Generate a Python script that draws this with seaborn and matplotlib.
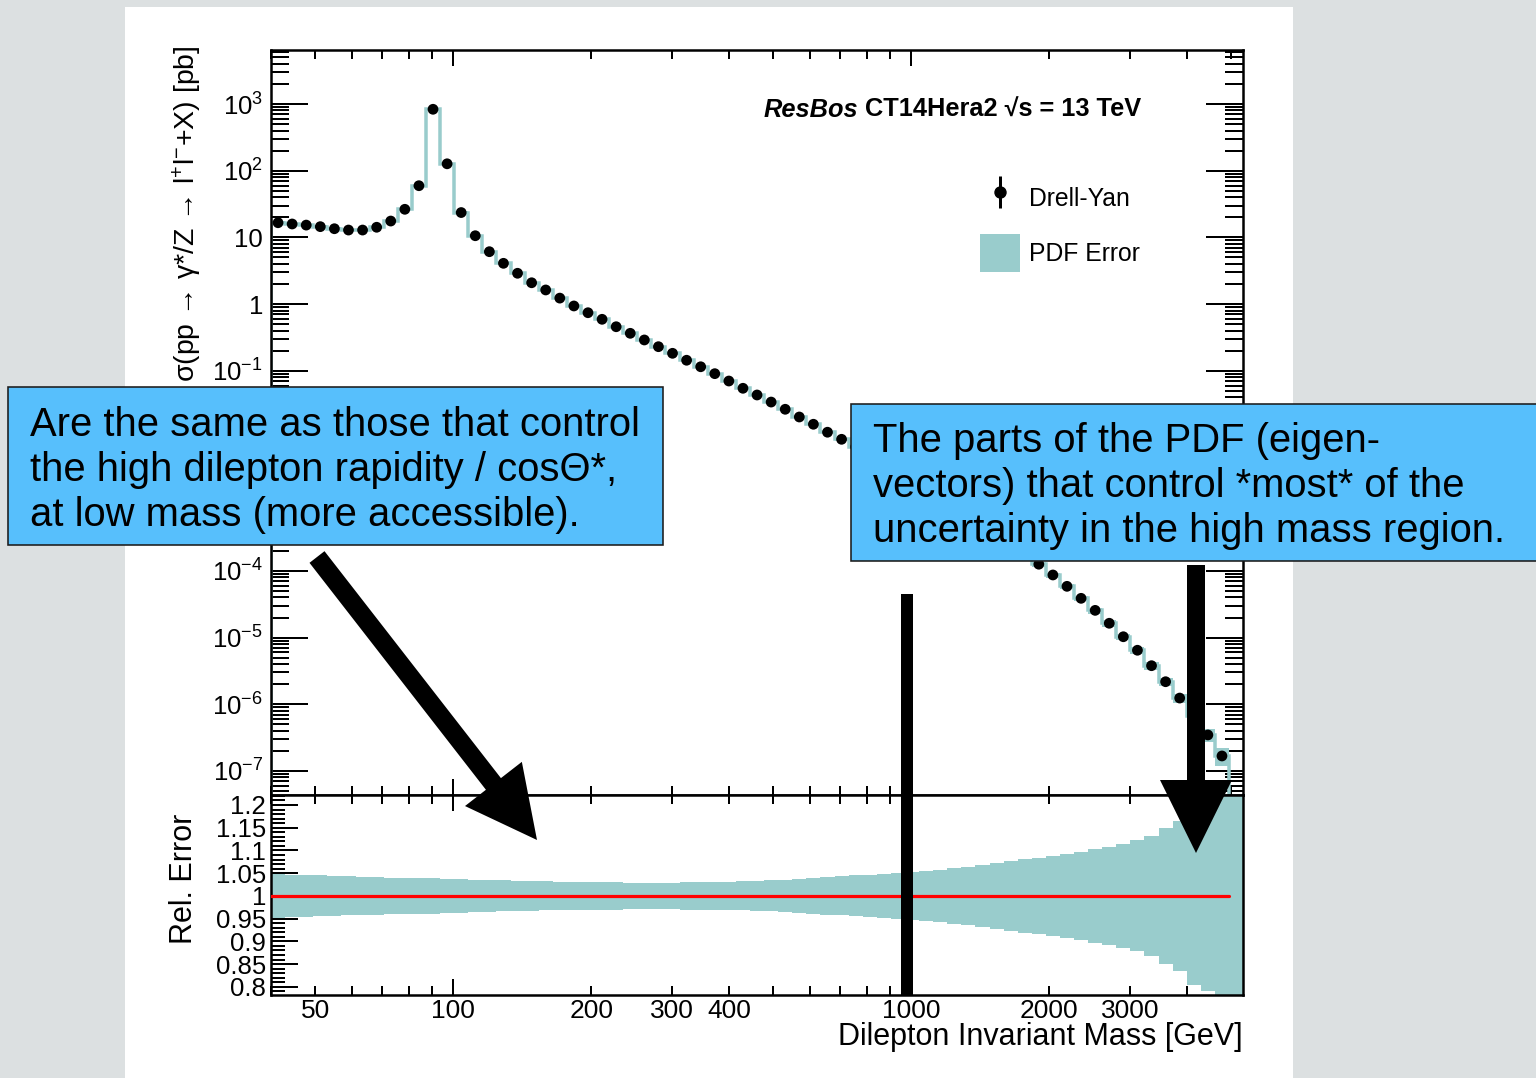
import numpy as np
import matplotlib
matplotlib.use("Agg")
import matplotlib.pyplot as plt
from matplotlib.patches import Rectangle, FancyArrow, Patch
from matplotlib.lines import Line2D
from matplotlib.transforms import Affine2D
from matplotlib.ticker import (FixedLocator, LogLocator, MultipleLocator,
                               FuncFormatter, NullFormatter)
import seaborn as sns

# ---------------------------------------------------------------- data
# dilepton mass binning (log bins)
mass_lo, mass_hi, n_bins = 40.0, 4940.0, 68

# cross section per bin [pb]
sigma = [16.6, 15.9, 15.3, 14.5, 13.5, 12.9, 12.9, 14.2, 17.6, 26.4,
         59.6, 834.0, 127.0, 23.6, 10.6, 6.11, 4.09, 2.90, 2.09, 1.63,
         1.23, 0.938, 0.743, 0.592, 0.458, 0.365, 0.290, 0.230, 0.183, 0.144,
         0.115, 0.0906, 0.0703, 0.0547, 0.0434, 0.0340, 0.0265, 0.0203, 0.0158, 0.0120,
         9.40e-3, 7.24e-3, 5.56e-3, 4.22e-3, 3.20e-3, 2.40e-3, 1.78e-3, 1.32e-3, 9.66e-4, 7.08e-4,
         5.13e-4, 3.67e-4, 2.60e-4, 1.82e-4, 1.26e-4, 8.69e-5, 5.87e-5, 3.88e-5, 2.56e-5, 1.64e-5,
         1.03e-5, 6.46e-6, 3.79e-6, 2.18e-6, 1.24e-6, 6.6e-7, 3.47e-7, 1.68e-7]

# relative PDF uncertainty per bin
pdf_rel_err = [0.048, 0.047, 0.046, 0.045, 0.044, 0.043, 0.042, 0.041, 0.040, 0.040,
               0.039, 0.039, 0.038, 0.037, 0.036, 0.035, 0.034, 0.033, 0.033, 0.032,
               0.031, 0.031, 0.030, 0.030, 0.030, 0.029, 0.029, 0.029, 0.029, 0.030,
               0.030, 0.031, 0.031, 0.032, 0.033, 0.034, 0.035, 0.037, 0.039, 0.041,
               0.043, 0.045, 0.047, 0.049, 0.051, 0.053, 0.055, 0.058, 0.061, 0.064,
               0.068, 0.073, 0.077, 0.081, 0.084, 0.088, 0.093, 0.097, 0.103, 0.108,
               0.115, 0.122, 0.132, 0.150, 0.165, 0.196, 0.209, 0.300]

x_ticklabels = [50, 100, 200, 300, 400, 1000, 2000, 3000]
legend_labels = ["Drell-Yan", "PDF Error"]
header = ("ResBos", " CT14Hera2 \u221as = 13 TeV")
note_left = ["Are the same as those that control",
             "the high dilepton rapidity / cos\u0398*,",
             "at low mass (more accessible)."]
note_right = ["The parts of the PDF (eigen-",
              "vectors) that control *most* of the",
              "uncertainty in the high mass region."]

# ---------------------------------------------------------------- style
sns.set_style("white")
plt.rcParams["font.family"] = ["Liberation Sans", "DejaVu Sans"]
plt.rcParams.update({
    "mathtext.fontset": "custom",
    "mathtext.rm": "Liberation Sans",
    "mathtext.it": "Liberation Sans:italic",
    "mathtext.bf": "Liberation Sans:bold",
    "axes.edgecolor": "black",
    "text.color": "black",
    "xtick.color": "black",
    "ytick.color": "black",
    "axes.grid": False,
})

TEAL = "#99CCCC"
BLUE = "#57BFFC"
W, H, DPI = 1536, 1078, 100


def pt(px):
    return px * 72.0 / DPI


fig = plt.figure(figsize=(W / DPI, H / DPI), dpi=DPI, facecolor="#DCE0E1")
pix = Affine2D().scale(1.0 / W, -1.0 / H).translate(0, 1) + fig.transFigure

fig.add_artist(Rectangle((125, 7), 1168, 1071, transform=pix,
                         facecolor="white", edgecolor="none", zorder=-5))

edges = np.geomspace(mass_lo, mass_hi, n_bins + 1)
centers = np.sqrt(edges[:-1] * edges[1:])
sig = np.asarray(sigma)
rel = np.asarray(pdf_rel_err)

ax = fig.add_axes([271 / W, 1 - 795 / H, 972 / W, 745 / H])
axr = fig.add_axes([271 / W, 1 - 995 / H, 972 / W, 200 / H])

XLIM = (40, 5300)

# ---------------------------------------------------------------- top panel
ax.set_xscale("log")
ax.set_yscale("log")
ax.set_xlim(*XLIM)
ax.set_ylim(10 ** -7.36, 10 ** 3.81)
ax.stairs(sig * (1 + rel), edges, baseline=sig * (1 - rel), fill=True,
          color=TEAL, lw=0, zorder=2)
ax.stairs(sig, edges, baseline=1e-12, color=TEAL, lw=pt(3.5), zorder=2)
sns.scatterplot(x=centers, y=sig, ax=ax, color="black", s=60,
                edgecolor="none", zorder=5, legend=False)


def decade_label(v, pos):
    e = int(round(np.log10(v)))
    if e == 0:
        return "1"
    if e == 1:
        return "10"
    return r"$\mathregular{10^{%d}}$" % e


ax.yaxis.set_major_locator(LogLocator(base=10, numticks=30))
ax.yaxis.set_minor_locator(LogLocator(base=10, subs=np.arange(2, 10), numticks=30))
ax.yaxis.set_major_formatter(FuncFormatter(decade_label))
ax.yaxis.set_minor_formatter(NullFormatter())
ax.xaxis.set_major_locator(FixedLocator([100, 1000]))
ax.xaxis.set_minor_locator(LogLocator(base=10, subs=np.arange(2, 10), numticks=30))
ax.xaxis.set_major_formatter(NullFormatter())
ax.xaxis.set_minor_formatter(NullFormatter())
ax.tick_params(axis="y", which="major", direction="in", length=pt(37), width=pt(2),
               left=True, right=True, labelsize=18.5, pad=pt(8))
ax.tick_params(axis="y", which="minor", direction="in", length=pt(18), width=pt(2),
               left=True, right=True)
ax.tick_params(axis="x", which="major", direction="in", length=pt(16), width=pt(2),
               top=True, bottom=True, labelbottom=False)
ax.tick_params(axis="x", which="minor", direction="in", length=pt(9), width=pt(2),
               top=True, bottom=True, labelbottom=False)
for s in ax.spines.values():
    s.set_linewidth(pt(2.5))
    s.set_color("black")

# legend
h_dy = (Line2D([], [], ls="none", marker="|", markersize=pt(32), mew=pt(3), color="k"),
        Line2D([], [], ls="none", marker="o", markersize=pt(11), color="k"))
h_pdf = Patch(facecolor=TEAL, edgecolor="none")
ax.legend([h_dy, h_pdf], legend_labels, loc="upper left",
          bbox_to_anchor=(980 / W, 1 - 179 / H), bbox_transform=fig.transFigure,
          frameon=False, fontsize=17.8, handlelength=1.6, handleheight=2.0,
          handletextpad=0.4, labelspacing=0.69, borderpad=0, borderaxespad=0)

# ---------------------------------------------------------------- ratio panel
axr.set_xscale("log")
axr.set_xlim(*XLIM)
axr.set_ylim(0.782, 1.222)
r_edges = np.append(edges, XLIM[1])
r_rel = np.append(rel, rel[-1])
axr.stairs(1 + r_rel, r_edges, baseline=1 - r_rel, fill=True, color=TEAL, lw=0, zorder=2)
sns.lineplot(x=edges, y=np.ones_like(edges), ax=axr, color="red", lw=pt(3.2), zorder=3)

axr.yaxis.set_major_locator(MultipleLocator(0.05))
axr.yaxis.set_minor_locator(MultipleLocator(0.01))
axr.yaxis.set_major_formatter(FuncFormatter(lambda v, p: "%g" % round(v, 2)))
axr.xaxis.set_major_locator(FixedLocator([100, 1000]))
axr.xaxis.set_minor_locator(LogLocator(base=10, subs=np.arange(2, 10), numticks=30))
axr.xaxis.set_major_formatter(FuncFormatter(lambda v, p: "%d" % round(v)))
axr.xaxis.set_minor_formatter(FuncFormatter(
    lambda v, p: "%d" % round(v) if int(round(v)) in x_ticklabels else ""))
axr.tick_params(axis="y", which="major", direction="in", length=pt(27), width=pt(2),
                left=True, right=True, labelsize=18.5, pad=pt(5))
axr.tick_params(axis="y", which="minor", direction="in", length=pt(14), width=pt(2),
                left=True, right=True)
axr.tick_params(axis="x", which="both", direction="in", width=pt(2), top=True,
                bottom=True, labelsize=19, pad=pt(4))
axr.tick_params(axis="x", which="major", length=pt(16))
axr.tick_params(axis="x", which="minor", length=pt(9))
for s in axr.spines.values():
    s.set_linewidth(pt(2.5))
    s.set_color("black")

# ---------------------------------------------------------------- axis titles
fig.text(187 / W, 1 - 45 / H,
         r"σ(pp → γ*/Z → l$^{+}$l$^{-}$+X) [pb]",
         rotation=90, ha="center", va="top", fontsize=20.5)
fig.text(184 / W, 1 - 814 / H, "Rel. Error", rotation=90, ha="center",
         va="top", fontsize=22)
fig.text(1243 / W, 1 - 1037 / H, "Dilepton Invariant Mass [GeV]",
         ha="right", va="center", fontsize=22)

# header line: italic generator name followed by PDF set and energy
t2 = fig.text(1141 / W, 1 - 117 / H, header[1], ha="right", va="baseline",
              fontsize=18.3, fontweight="bold")
fig.canvas.draw()
bb = t2.get_window_extent(fig.canvas.get_renderer())
fig.text(bb.x0 / W, 1 - 117 / H, header[0], ha="right", va="baseline",
         fontsize=18.3, fontweight="bold", style="italic")

# ---------------------------------------------------------------- call-outs
fig.add_artist(Rectangle((8, 387), 655, 158, transform=pix, facecolor=BLUE,
                         edgecolor="#1c1c1c", lw=pt(1.6), zorder=10))
for i, line in enumerate(note_left):
    fig.text(30 / W, 1 - (436 + 45 * i) / H, line, ha="left", va="baseline",
             fontsize=28.8, zorder=12)

fig.add_artist(Rectangle((851, 404), 690, 157, transform=pix, facecolor=BLUE,
                         edgecolor="#1c1c1c", lw=pt(1.6), zorder=10))
for i, line in enumerate(note_right):
    fig.text(873 / W, 1 - (452 + 45 * i) / H, line, ha="left", va="baseline",
             fontsize=28.8, zorder=12)

fig.add_artist(FancyArrow(317, 557, 220, 283, width=19, head_width=72,
                          head_length=71, length_includes_head=True,
                          transform=pix, color="black", lw=0, zorder=10))
fig.add_artist(FancyArrow(1196, 565, 0, 288, width=18, head_width=72,
                          head_length=73, length_includes_head=True,
                          transform=pix, color="black", lw=0, zorder=10))
fig.add_artist(Rectangle((901, 594), 12, 401, transform=pix, facecolor="black",
                         edgecolor="none", zorder=10))

fig.savefig("out.png", dpi=DPI, facecolor=fig.get_facecolor())
